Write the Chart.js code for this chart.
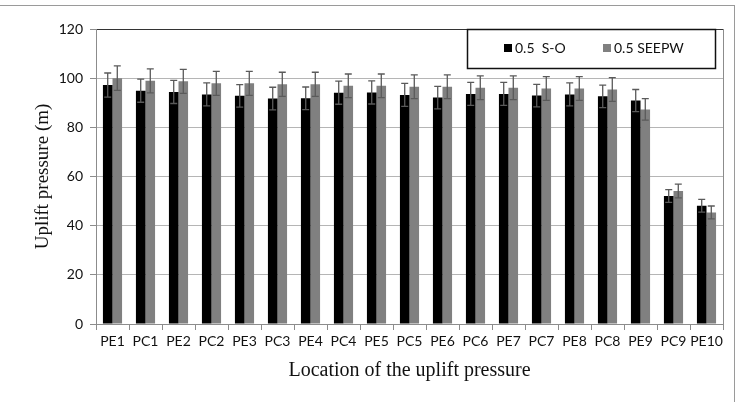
<!DOCTYPE html>
<html>
<head>
<meta charset="utf-8">
<script src="https://cdn.jsdelivr.net/npm/chart.js@4.4.1/dist/chart.umd.min.js"></script>
<style>
html,body{margin:0;padding:0;background:#fff;}
#wrap{position:relative;width:741px;height:402px;overflow:hidden;}
#frame{position:absolute;left:-2px;top:5px;width:736px;height:400px;border-top:1px solid #9a9a9a;border-right:1px solid #9a9a9a;}
canvas{position:absolute;left:0;top:0;}
</style>
</head>
<body>
<div id="wrap"><div id="frame"></div><canvas id="c" width="741" height="402"></canvas></div>
<script>
const categories = ["PE1","PC1","PE2","PC2","PE3","PC3","PE4","PC4","PE5","PC5","PE6","PC6","PE7","PC7","PE8","PC8","PE9","PC9","PE10"];
const seriesSO = [97.2,94.9,94.4,93.4,92.8,91.7,91.8,94.1,94.2,93.2,92.1,93.6,93.6,92.9,93.4,92.6,90.9,52.1,48.1];
const seriesSEEPW = [100.0,98.9,98.7,97.9,97.9,97.5,97.5,96.9,96.9,96.5,96.5,96.1,96.1,95.8,95.8,95.4,87.3,54.1,45.4];
const errSO = [4.9,4.7,4.7,4.7,4.6,4.6,4.6,4.7,4.7,4.7,4.6,4.7,4.7,4.6,4.7,4.6,4.5,2.6,2.6];
const errSEEPW = [5.0,4.9,4.9,4.9,4.9,4.9,4.9,4.8,4.8,4.8,4.8,4.8,4.8,4.8,4.8,4.8,4.4,2.8,2.6];
const yTicks = [0,20,40,60,80,100,120];
const legendLabels = ["0.5  S-O","0.5 SEEPW"];

const errorBars = {
  id:'errorBars',
  afterDatasetsDraw(chart){
    const ctx = chart.ctx, ys = chart.scales.y;
    const errs = [errSO, errSEEPW];
    ctx.save();
    ctx.strokeStyle = '#5a5a5a';
    ctx.lineWidth = 1.3;
    chart.data.datasets.forEach((ds, di) => {
      const meta = chart.getDatasetMeta(di);
      meta.data.forEach((el, i) => {
        const v = ds.data[i], e = errs[di][i];
        const yt = ys.getPixelForValue(v + e), yb = ys.getPixelForValue(v - e);
        const x = el.x;
        ctx.beginPath();
        ctx.moveTo(x, yt); ctx.lineTo(x, yb);
        ctx.moveTo(x - 3.5, yt); ctx.lineTo(x + 3.5, yt);
        ctx.moveTo(x - 3.5, yb); ctx.lineTo(x + 3.5, yb);
        ctx.stroke();
      });
    });
    ctx.restore();
  }
};

const decor = {
  id:'decor',
  afterDraw(chart){
    const ctx = chart.ctx, a = chart.chartArea;
    ctx.save();
    ctx.strokeStyle = '#8c8c8c'; ctx.lineWidth = 1;
    ctx.beginPath(); ctx.moveTo(Math.round(a.right)+0.5, a.top); ctx.lineTo(Math.round(a.right)+0.5, a.bottom); ctx.stroke();
    const lx = 467.5, ly = 29.5, lw = 248, lh = 39;
    ctx.fillStyle = '#fff'; ctx.fillRect(lx, ly, lw, lh);
    ctx.strokeStyle = '#111'; ctx.lineWidth = 1.5; ctx.strokeRect(lx, ly, lw, lh);
    ctx.font = '14px Lato';
    ctx.textBaseline = 'middle';
    ctx.fillStyle = '#000'; ctx.fillRect(504, 44, 8, 8);
    ctx.fillStyle = '#111'; ctx.fillText(legendLabels[0], 515, 48.5);
    ctx.fillStyle = '#808080'; ctx.fillRect(603, 44, 8, 8);
    ctx.fillStyle = '#111'; ctx.fillText(legendLabels[1], 614, 48.5);
    ctx.restore();
  }
};

new Chart(document.getElementById('c'), {
  type:'bar',
  data:{
    labels: categories,
    datasets:[
      {label: legendLabels[0], data: seriesSO, backgroundColor:'#000000', categoryPercentage:0.58, barPercentage:1.0},
      {label: legendLabels[1], data: seriesSEEPW, backgroundColor:'#808080', categoryPercentage:0.58, barPercentage:1.0}
    ]
  },
  options:{
    responsive:false,
    animation:false,
    devicePixelRatio:1,
    layout:{padding:{left:20, top:29, right:18, bottom:0}},
    plugins:{legend:{display:false}, tooltip:{enabled:false}},
    scales:{
      x:{
        grid:{display:true, drawOnChartArea:false, drawTicks:true, offset:true, tickLength:6, color:'#8c8c8c'},
        border:{color:'#8c8c8c', width:1},
        ticks:{color:'#111', font:{family:'Lato', size:14}, padding:3, maxRotation:0, autoSkip:false},
        title:{display:true, text:'Location of the uplift pressure', color:'#111', font:{family:'Liberation Serif', size:20}, padding:{top:0, bottom:19}},
        afterFit(s){ s.height = 78; }
      },
      y:{
        min:0, max:120,
        afterBuildTicks(s){ s.ticks = yTicks.map(v => ({value:v})); },
        grid:{color:(c)=> c.tick && c.tick.value===120 ? '#333' : '#b5b5b5', tickLength:6, tickColor:'#8c8c8c', lineWidth:1},
        border:{color:'#8c8c8c', width:1},
        ticks:{color:'#111', font:{family:'Lato', size:14}, padding:7},
        title:{display:true, text:'Uplift pressure (m)', color:'#111', font:{family:'Liberation Serif', size:19}, padding:{top:12, bottom:0}},
        afterFit(s){ s.width = 76; }
      }
    }
  },
  plugins:[errorBars, decor]
});
</script>
</body>
</html>
